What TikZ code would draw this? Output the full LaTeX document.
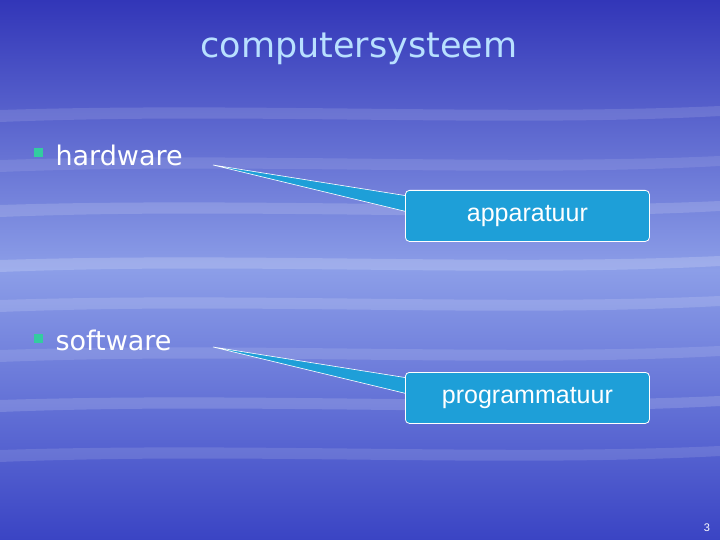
\documentclass[tikz,border=0pt]{standalone}
\usepackage{fontspec}
\setmainfont{DejaVu Sans}
\newfontfamily\titlefont{DejaVu Sans}
\newfontfamily\callfont{Liberation Sans}
\definecolor{bgtop}{HTML}{3236B8}
\definecolor{bgmid}{HTML}{8C9EE8}
\definecolor{bgbot}{HTML}{3A44C4}
\definecolor{callfill}{HTML}{1E9FD8}
\definecolor{bullet}{HTML}{33CCA0}
\definecolor{titlecol}{HTML}{B8E0FF}
\tikzset{
  callout/.style={draw=white,line width=0.8pt,fill=callfill,rounded corners=4pt,minimum width=244pt,minimum height=51pt,anchor=north west,text=white,font=\callfont\fontsize{25}{28}\selectfont},
  itemtext/.style={anchor=west,text=white,font=\fontsize{27}{30}\selectfont},
  bul/.style={fill=bullet,minimum size=9pt,inner sep=0pt},
  wedge/.style={fill=callfill,draw=white,line width=0.6pt}
}
\begin{document}
\begin{tikzpicture}[x=1pt,y=-1pt]
\useasboundingbox (0,0) rectangle (720,540);
\shade[top color=bgtop,bottom color=bgmid] (0,0) rectangle (720,270);
\shade[top color=bgmid,bottom color=bgbot] (0,270) rectangle (720,540);
\foreach \y/\w in {110/0.12,160/0.1,205/0.15,260/0.18,300/0.15,350/0.12,400/0.15,450/0.12}{
  \fill[white,opacity=\w] (0,\y) .. controls (250,\y-8) and (500,\y+6) .. (720,\y-4) -- (720,\y+6) .. controls (500,\y+18) and (250,\y+2) .. (0,\y+12) -- cycle;}
\node (title) [text=titlecol,font=\titlefont\fontsize{35}{40}\selectfont] at (359,49) {computersysteem};
\node (b1) [bul] at (38,153) {};
\node (hw) [itemtext] at (52,155) {hardware};
\node (b2) [bul] at (38,338) {};
\node (sw) [itemtext] at (52,340) {software};
\coordinate (p1) at (213,165);
\coordinate (p2) at (213,347);
\draw[wedge] (p1) -- (408,196) -- (408,212) -- cycle;
\draw[wedge] (p2) -- (408,378) -- (408,394) -- cycle;
\node (c1) [callout] at (405,190) {apparatuur};
\node (c2) [callout] at (405,372) {programmatuur};
\fill[callfill] (406.5,196.5) rectangle (410,211.5);
\fill[callfill] (406.5,378.5) rectangle (410,393.5);
\node (num) [text=white,font=\callfont\fontsize{11}{13}\selectfont] at (707,528) {3};
\end{tikzpicture}
\end{document}
